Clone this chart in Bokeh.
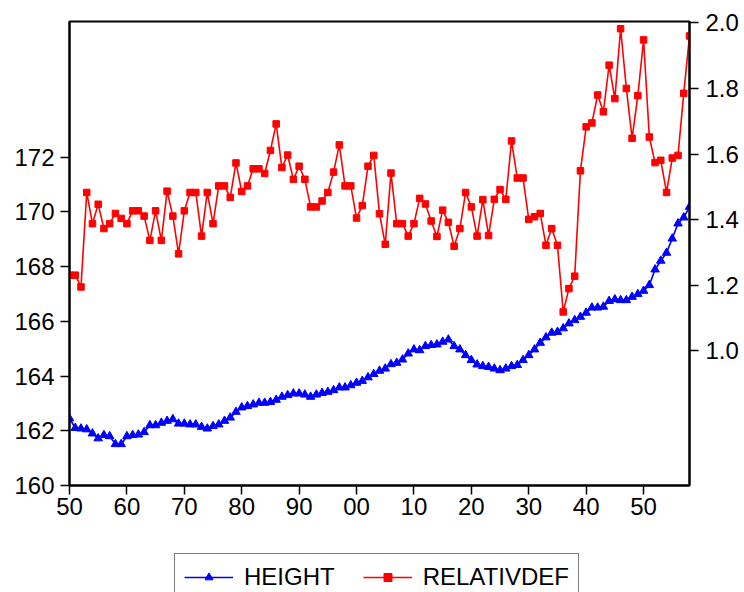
from bokeh.plotting import figure
from bokeh.layouts import column
from bokeh.models import Range1d, LinearAxis, FixedTicker, Legend, LegendItem, ColumnDataSource
from bokeh.embed import file_html
from bokeh.resources import INLINE

years = list(range(1850, 1959))

height = [162.45, 162.10, 162.08, 162.05, 161.90, 161.72, 161.84, 161.80, 161.51, 161.51,
          161.80, 161.84, 161.86, 161.95, 162.20, 162.20, 162.29, 162.36, 162.42, 162.26,
          162.26, 162.23, 162.23, 162.14, 162.08, 162.17, 162.23, 162.36, 162.48, 162.69,
          162.85, 162.90, 162.96, 163.02, 163.02, 163.05, 163.13, 163.24, 163.30, 163.36,
          163.36, 163.32, 163.24, 163.32, 163.38, 163.42, 163.48, 163.58, 163.58, 163.66,
          163.75, 163.82, 163.95, 164.07, 164.19, 164.27, 164.43, 164.48, 164.60, 164.82,
          164.97, 164.94, 165.09, 165.13, 165.15, 165.25, 165.33, 165.09, 164.97, 164.76,
          164.58, 164.42, 164.36, 164.33, 164.27, 164.21, 164.27, 164.36, 164.40, 164.58,
          164.76, 164.97, 165.21, 165.41, 165.58, 165.61, 165.74, 165.92, 166.04, 166.16,
          166.31, 166.50, 166.50, 166.53, 166.74, 166.80, 166.77, 166.77, 166.89, 166.99,
          167.11, 167.32, 167.89, 168.21, 168.50, 169.02, 169.57, 169.79, 170.18]

relativdef = [1.231, 1.231, 1.195, 1.483, 1.388, 1.447, 1.373, 1.388, 1.419, 1.404,
              1.388, 1.427, 1.427, 1.411, 1.337, 1.427, 1.337, 1.487, 1.411, 1.296,
              1.427, 1.483, 1.483, 1.350, 1.483, 1.388, 1.503, 1.503, 1.468, 1.573,
              1.486, 1.503, 1.555, 1.555, 1.541, 1.611, 1.692, 1.559, 1.597, 1.523,
              1.563, 1.523, 1.439, 1.439, 1.457, 1.483, 1.545, 1.628, 1.503, 1.503,
              1.405, 1.443, 1.563, 1.596, 1.418, 1.325, 1.542, 1.388, 1.388, 1.350,
              1.388, 1.465, 1.448, 1.396, 1.349, 1.429, 1.392, 1.319, 1.373, 1.483,
              1.439, 1.350, 1.461, 1.352, 1.462, 1.492, 1.462, 1.640, 1.527, 1.527,
              1.401, 1.409, 1.419, 1.322, 1.373, 1.322, 1.119, 1.190, 1.228, 1.549,
              1.683, 1.695, 1.780, 1.729, 1.871, 1.769, 1.982, 1.800, 1.648, 1.778,
              1.948, 1.652, 1.574, 1.581, 1.483, 1.588, 1.596, 1.785, 1.960]

x_ticks = [1850, 1860, 1870, 1880, 1890, 1900, 1910, 1920, 1930, 1940, 1950]
x_tick_labels = ["50", "60", "70", "80", "90", "00", "10", "20", "30", "40", "50"]
left_ticks = [160, 162, 164, 166, 168, 170, 172]
right_ticks = [1.0, 1.2, 1.4, 1.6, 1.8, 2.0]
right_tick_labels = ["1.0", "1.2", "1.4", "1.6", "1.8", "2.0"]
series_names = ["HEIGHT", "RELATIVDEF"]

FONT = "Liberation Sans"
FSIZE = "24px"
BLUE = "#0000FF"
RED = "#FF0000"

# ---- main chart ----
p = figure(frame_width=620, frame_height=464, output_backend="svg", toolbar_location=None,
           x_range=Range1d(1850, 1958), y_range=Range1d(160, 176.95),
           min_border_left=69, min_border_right=55, min_border_top=21, min_border_bottom=45)
p.extra_y_ranges = {"right": Range1d(0.590, 2.004)}
p.add_layout(LinearAxis(y_range_name="right"), "right")

p.xgrid.grid_line_color = None
p.ygrid.grid_line_color = None
p.outline_line_color = "black"
p.outline_line_width = 2
p.background_fill_color = "white"
p.border_fill_color = "white"

p.xaxis[0].ticker = FixedTicker(ticks=x_ticks)
p.xaxis[0].major_label_overrides = dict(zip(x_ticks, x_tick_labels))
p.yaxis[0].ticker = FixedTicker(ticks=left_ticks)
p.yaxis[1].ticker = FixedTicker(ticks=right_ticks)
p.yaxis[1].major_label_overrides = dict(zip(right_ticks, right_tick_labels))

for ax in p.xaxis + p.yaxis:
    ax.axis_line_color = "black"
    ax.axis_line_width = 2
    ax.major_tick_line_color = "black"
    ax.major_tick_line_width = 1.5
    ax.major_tick_out = 9
    ax.major_tick_in = 0
    ax.minor_tick_line_color = None
    ax.major_label_text_font = FONT
    ax.major_label_text_font_size = FSIZE
    ax.major_label_text_color = "black"
p.xaxis[0].major_label_standoff = 3
p.yaxis[0].major_label_standoff = 6
p.yaxis[1].major_label_standoff = 7

src = ColumnDataSource(dict(year=years, height=height, rel=relativdef))
p.line("year", "height", source=src, color=BLUE, line_width=1.6)
p.scatter("year", "height", source=src, marker="triangle", size=8.5, color=BLUE)
p.line("year", "rel", source=src, color=RED, line_width=1.6, y_range_name="right")
p.scatter("year", "rel", source=src, marker="square", size=6.5, color=RED, y_range_name="right")

# ---- legend strip (a separate small figure below the chart) ----
lg = figure(width=744, height=62, output_backend="svg", toolbar_location=None,
            x_range=Range1d(0, 1), y_range=Range1d(0, 1),
            x_axis_type=None, y_axis_type=None,
            min_border_left=0, min_border_right=0, min_border_top=0, min_border_bottom=0)
lg.outline_line_color = None
lg.xgrid.grid_line_color = None
lg.ygrid.grid_line_color = None
lg.border_fill_color = "white"
lg.background_fill_color = "white"
proxy = ColumnDataSource(dict(x=[-10], y=[-10]))
lb_l = lg.line("x", "y", source=proxy, color=BLUE, line_width=1.6)
lb_m = lg.scatter("x", "y", source=proxy, marker="triangle", size=8.5, color=BLUE)
lr_l = lg.line("x", "y", source=proxy, color=RED, line_width=1.6)
lr_m = lg.scatter("x", "y", source=proxy, marker="square", size=6.5, color=RED)

legend = Legend(items=[LegendItem(label=series_names[0], renderers=[lb_l, lb_m]),
                       LegendItem(label=series_names[1], renderers=[lr_l, lr_m])],
                location=(105, -9), orientation="horizontal",
                glyph_width=49, glyph_height=20, label_standoff=11, spacing=28, padding=9,
                margin=0, border_line_color="black", border_line_width=1,
                background_fill_color="white", background_fill_alpha=1.0,
                label_text_font=FONT, label_text_font_size=FSIZE, label_text_color="black")
lg.add_layout(legend, "center")

layout = column(p, lg, spacing=0)
open("out.html", "w").write(file_html(layout, INLINE))
